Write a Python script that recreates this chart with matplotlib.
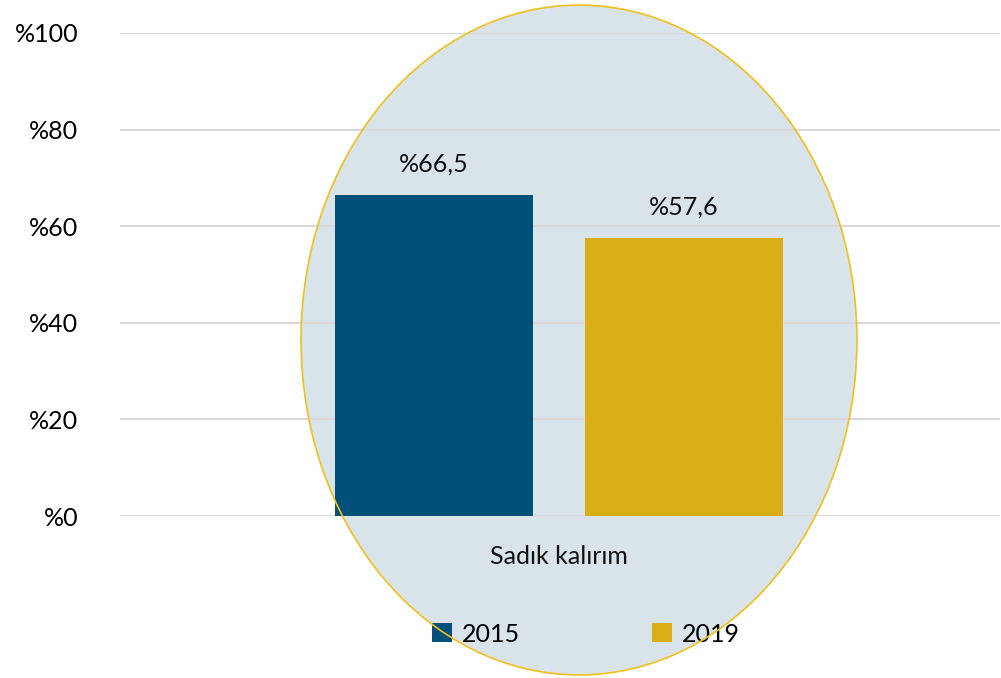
import matplotlib
matplotlib.use('Agg')
import matplotlib.pyplot as plt
from matplotlib.patches import Ellipse, Patch

# data
years = ['2015', '2019']
values = [66.5, 57.6]
labels = ['%66,5', '%57,6']
category = 'Sadık kalırım'
yticks = [0, 20, 40, 60, 80, 100]
colors = ['#00507A', '#D9AE16']

plt.rcParams['font.family'] = ['Lato', 'DejaVu Sans']
FS = 18

fig = plt.figure(figsize=(10.01, 6.78), dpi=100)

# background ellipse (fill behind, outline on top)
ell_fill = Ellipse((0.5784, 0.4985), 0.5554, 0.988, transform=fig.transFigure,
                   facecolor='#D9E3EA', edgecolor='none', zorder=0)
fig.patches.append(ell_fill)

ax = fig.add_axes([120/1001, 1 - 516/678, 880/1001, (516 - 33)/678])
ax.patch.set_alpha(0)
ax.set_zorder(1)

x = [0, 1]
ax.bar(x, values, width=0.792, color=colors, zorder=3)
for xi, v, lab in zip(x, values, labels):
    ax.text(xi, v + 4.0, lab, ha='center', va='bottom', fontsize=FS, color='#111111')

ax.set_xlim(-1.256, 2.264)
ax.set_ylim(0, 100)
ax.set_yticks(yticks)
ax.set_yticklabels(['%' + str(t) for t in yticks], fontsize=FS)
ax.tick_params(axis='y', length=0, pad=30)
ax.set_xticks([])
ax.grid(axis='y', color='#D9D9D9', linewidth=1.5, zorder=1)
for s in ax.spines.values():
    s.set_visible(False)

fig.text(559/1001, 1 - 557/678, category, ha='center', va='center', fontsize=FS, color='#111111')

handles = [Patch(facecolor=c, edgecolor='none') for c in colors]
fig.legend(handles, years, loc='center', bbox_to_anchor=(586/1001, 1 - 634/678), ncol=2,
           frameon=False, fontsize=FS, handlelength=0.8, handleheight=0.8,
           handletextpad=0.4, columnspacing=5.3)

ell_edge = Ellipse((0.5784, 0.4985), 0.5554, 0.988, transform=fig.transFigure,
                   facecolor='none', edgecolor='#F2C01A', linewidth=1.2, zorder=10)
fig.patches.append(ell_edge)

fig.savefig('out.png', dpi=100)
